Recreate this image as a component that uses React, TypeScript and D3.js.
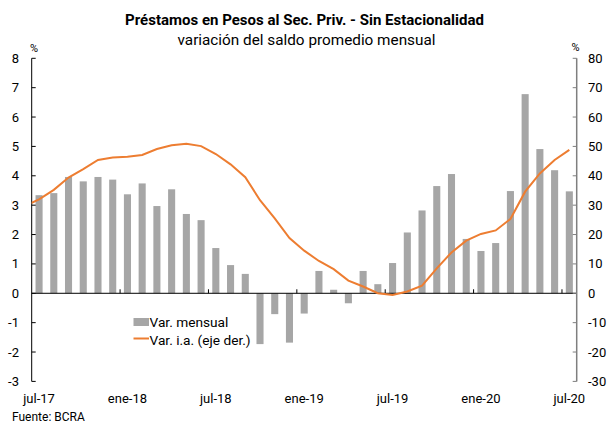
import React from "react";
import * as d3 from "d3";

const MONTHS = ["jul-17","ago-17","sep-17","oct-17","nov-17","dic-17","ene-18","feb-18","mar-18","abr-18","may-18","jun-18","jul-18","ago-18","sep-18","oct-18","nov-18","dic-18","ene-19","feb-19","mar-19","abr-19","may-19","jun-19","jul-19","ago-19","sep-19","oct-19","nov-19","dic-19","ene-20","feb-20","mar-20","abr-20","may-20","jun-20","jul-20"];

const VAR_MENSUAL = [3.34,3.41,3.96,3.81,3.96,3.87,3.37,3.74,2.97,3.54,2.70,2.49,1.54,0.96,0.66,-1.73,-0.71,-1.68,-0.69,0.76,0.12,-0.34,0.76,0.31,1.03,2.07,2.82,3.65,4.06,1.85,1.44,1.71,3.48,6.78,4.91,4.19,3.47];

// jun-17 value (drawn only as the clipped lead-in of the line)
const VAR_IA_PREV = 29.6;
const VAR_IA = [32.0,35.2,39.4,42.3,45.4,46.2,46.5,47.1,49.1,50.4,50.9,50.1,47.4,43.9,39.5,31.7,25.5,18.8,14.5,11.0,8.2,4.3,2.3,0.0,-0.6,0.6,2.6,8.5,13.9,17.9,20.2,21.4,25.3,34.6,40.8,45.4,48.8];

const LEFT_TICKS = [-3,-2,-1,0,1,2,3,4,5,6,7,8];
const RIGHT_TICKS = [-30,-20,-10,0,10,20,30,40,50,60,70,80];
const X_LABELS = ["jul-17","ene-18","jul-18","ene-19","jul-19","ene-20","jul-20"];

const TITLE = "Préstamos en Pesos al Sec. Priv. - Sin Estacionalidad";
const SUBTITLE = "variación del saldo promedio mensual";

const W = 609, H = 423;
const L = 31.7, R = 576.7, T = 58.3, B = 381.4;
const FONT = "Roboto, 'Noto Sans', sans-serif";
const BAR = "#a6a6a6";
const ORANGE = "#ED7D31";

export default function App() {
  const x = d3.scaleBand<string>().domain(MONTHS).range([L, R]).paddingInner(0.52).paddingOuter(0.26);
  const yL = d3.scaleLinear().domain([-3, 8]).range([B, T]);
  const yR = d3.scaleLinear().domain([-30, 80]).range([B, T]);
  const step = x.step();
  const cx = (m: string) => (x(m) as number) + x.bandwidth() / 2;
  const bandStart = (m: string) => (x(m) as number) - (step - x.bandwidth()) / 2;

  const pts: [number, number][] = [[cx(MONTHS[0]) - step, yR(VAR_IA_PREV)]];
  MONTHS.forEach((m, i) => pts.push([cx(m), yR(VAR_IA[i])]));
  const line = d3.line()(pts) as string;

  const y0 = yL(0);

  return (
    <svg width={W} height={H} style={{ position: "absolute", left: 0, top: 0, background: "#fff" }} fontFamily={FONT}>
      <defs>
        <clipPath id="plotclip">
          <rect x={L} y={0} width={R - L} height={H} />
        </clipPath>
      </defs>
      <text x={W / 2} y={25} textAnchor="middle" fontSize={15} fontWeight="bold" fill="#000">{TITLE}</text>
      <text x={W / 2 + 2} y={44.5} textAnchor="middle" fontSize={15.3} fill="#000">{SUBTITLE}</text>

      {MONTHS.map((m, i) => {
        const v = VAR_MENSUAL[i];
        return (
          <rect key={m} x={x(m)} width={x.bandwidth()} y={Math.min(yL(v), y0)} height={Math.abs(yL(v) - y0)} fill={BAR} />
        );
      })}

      {/* zero line */}
      <line x1={L} x2={R} y1={y0} y2={y0} stroke="#000" strokeWidth={1} />
      {X_LABELS.map((m) => (
        <g key={m}>
          {m !== MONTHS[0] && (
            <line x1={bandStart(m)} x2={bandStart(m)} y1={y0} y2={y0 - 4} stroke="#000" strokeWidth={1} />
          )}
          <text x={cx(m)} y={403} textAnchor="middle" fontSize={13} fill="#000">{m}</text>
        </g>
      ))}

      {/* left axis */}
      <line x1={L} x2={L} y1={T} y2={B} stroke="#000" strokeWidth={1} />
      {LEFT_TICKS.map((t) => (
        <g key={t}>
          <line x1={L} x2={L + 4} y1={yL(t)} y2={yL(t)} stroke="#000" strokeWidth={1} />
          <text x={19} y={yL(t)} dy="0.35em" textAnchor="end" fontSize={13} fill="#000">{t}</text>
        </g>
      ))}
      <text x={34} y={52} textAnchor="middle" fontSize={11} fill="#000">%</text>

      {/* right axis */}
      <line x1={R} x2={R} y1={T} y2={B} stroke="#7f7f7f" strokeWidth={1.5} />
      {RIGHT_TICKS.map((t) => (
        <g key={t}>
          <line x1={R - 4} x2={R} y1={yR(t)} y2={yR(t)} stroke="#7f7f7f" strokeWidth={1} />
          <text x={588} y={yR(t)} dy="0.35em" textAnchor="start" fontSize={13} fill="#000">{t}</text>
        </g>
      ))}
      <text x={575.5} y={51} textAnchor="middle" fontSize={11} fill="#000">%</text>

      {/* line */}
      <path d={line} fill="none" stroke={ORANGE} strokeWidth={2} clipPath="url(#plotclip)" />

      {/* legend */}
      <rect x={133.5} y={318} width={15.5} height={8} fill={BAR} />
      <text x={149.5} y={327} fontSize={13.7} fill="#000">Var. mensual</text>
      <line x1={133.5} x2={149} y1={338.5} y2={338.5} stroke={ORANGE} strokeWidth={2} />
      <text x={149.5} y={344.5} fontSize={13.7} fill="#000">Var. i.a. (eje der.)</text>

      <text x={12} y={421} fontSize={12} fill="#000">Fuente: BCRA</text>
    </svg>
  );
}
